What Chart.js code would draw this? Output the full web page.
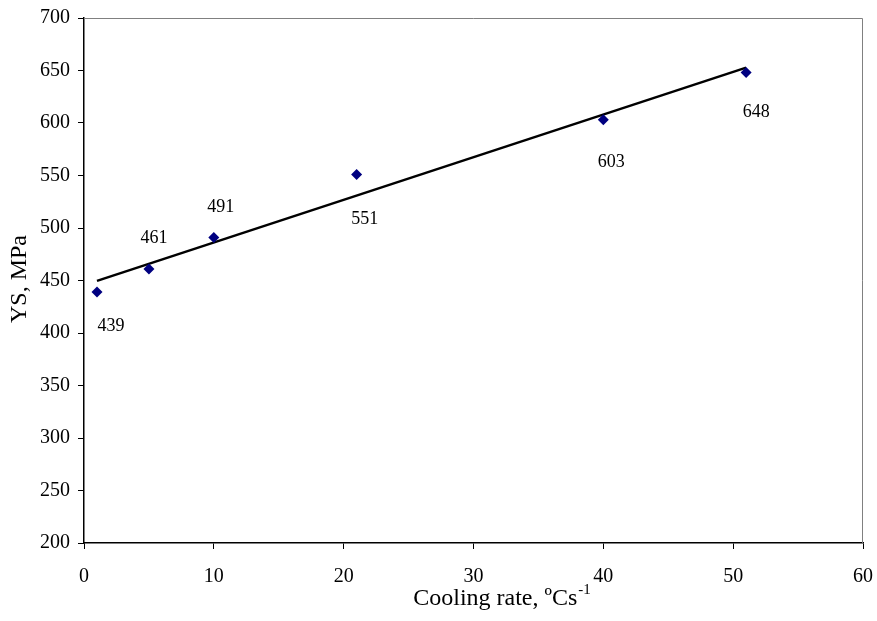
<!DOCTYPE html>
<html>
<head>
<meta charset="utf-8">
<script src="https://cdn.jsdelivr.net/npm/chart.js@4"></script>
<style>
  html, body { margin: 0; padding: 0; background: #fff; }
  #wrap { width: 877px; height: 621px; }
</style>
</head>
<body>
<div id="wrap"><canvas id="ysChart" width="877" height="621"></canvas></div>
<script>
// cooling rate (ºC/s) vs yield strength (MPa)
const coolingRate = [1, 5, 10, 21, 40, 51];
const yieldStrength = [439, 461, 491, 551, 603, 648];
// linear trend line end points
const trendX = [1, 51];
const trendY = [449.6, 652.7];
const xTicks = [0, 10, 20, 30, 40, 50, 60];
const yTicks = [200, 250, 300, 350, 400, 450, 500, 550, 600, 650, 700];

// where each value label sits relative to its point (px)
const labelOffsets = [[14, 34], [5, -31], [7, -30], [8, 45], [8, 42], [10, 40]];

const FONT = '"Liberation Serif", "Times New Roman", serif';

const framePlugin = {
    id: 'frame',
    afterDatasetsDraw(chart) {
        const { ctx, chartArea: a } = chart;
        ctx.save();
        ctx.strokeStyle = '#808080';
        ctx.lineWidth = 1;
        ctx.beginPath();
        ctx.moveTo(a.left, a.top + 0.5);
        ctx.lineTo(a.right - 0.5, a.top + 0.5);
        ctx.lineTo(a.right - 0.5, a.bottom);
        ctx.stroke();
        ctx.restore();
    },
    afterDraw(chart) {
        const { ctx, scales } = chart;
        ctx.save();
        ctx.fillStyle = '#000';
        ctx.font = '18px ' + FONT;
        ctx.textAlign = 'center';
        ctx.textBaseline = 'middle';
        coolingRate.forEach((x, i) => {
            const px = scales.x.getPixelForValue(x) + labelOffsets[i][0];
            const py = scales.y.getPixelForValue(yieldStrength[i]) + labelOffsets[i][1];
            ctx.fillText(String(yieldStrength[i]), px, py);
        });

        // x axis title with superscript
        const main = 'Cooling rate, ºCs';
        const sup = '-1';
        ctx.font = '24px ' + FONT;
        const wMain = ctx.measureText(main).width;
        ctx.font = '15px ' + FONT;
        const wSup = ctx.measureText(sup).width;
        const cx = (chart.chartArea.left + chart.chartArea.right) / 2 + 28;
        let sx = cx - (wMain + wSup) / 2;
        ctx.textAlign = 'left';
        ctx.textBaseline = 'alphabetic';
        ctx.font = '24px ' + FONT;
        ctx.fillText(main, sx, 605);
        ctx.font = '15px ' + FONT;
        ctx.fillText(sup, sx + wMain + 1, 594);

        // y axis title
        ctx.font = '24px ' + FONT;
        ctx.textAlign = 'center';
        ctx.textBaseline = 'middle';
        ctx.translate(20, 279);
        ctx.rotate(-Math.PI / 2);
        ctx.fillText('YS, MPa', 0, 0);
        ctx.restore();
    }
};

new Chart(document.getElementById('ysChart'), {
    type: 'scatter',
    data: {
        datasets: [
            {
                label: 'YS',
                data: coolingRate.map((x, i) => ({ x: x, y: yieldStrength[i] })),
                pointStyle: 'rectRot',
                pointRadius: 5.5,
                backgroundColor: '#000080',
                borderColor: '#000080',
                borderWidth: 0,
                showLine: false,
                order: 1
            },
            {
                label: 'Trend',
                data: trendX.map((x, i) => ({ x: x, y: trendY[i] })),
                showLine: true,
                borderColor: '#000',
                borderWidth: 2.5,
                pointRadius: 0,
                fill: false,
                order: 2
            }
        ]
    },
    options: {
        responsive: false,
        animation: false,
        layout: { padding: { left: 0, top: 18, right: 14, bottom: 0 } },
        plugins: { legend: { display: false }, tooltip: { enabled: false } },
        scales: {
            x: {
                type: 'linear',
                min: 0, max: 60,
                afterBuildTicks: s => { s.ticks = xTicks.map(v => ({ value: v })); },
                afterFit: s => { s.height = 78; s.paddingLeft = 0; s.paddingRight = 0; },
                grid: { display: true, drawOnChartArea: false, tickLength: 6, color: '#000', lineWidth: 1 },
                border: { color: '#000', width: 1.5 },
                ticks: { color: '#000', font: { family: FONT, size: 20 }, padding: 16 }
            },
            y: {
                type: 'linear',
                min: 200, max: 700,
                afterBuildTicks: s => { s.ticks = yTicks.map(v => ({ value: v })); },
                afterFit: s => { s.width = 84; s.paddingTop = 0; s.paddingBottom = 0; },
                grid: { display: true, drawOnChartArea: false, tickLength: 6, color: '#000', lineWidth: 1 },
                border: { color: '#000', width: 1.5 },
                ticks: { color: '#000', font: { family: FONT, size: 20 }, padding: 8 }
            }
        }
    },
    plugins: [framePlugin]
});
</script>
</body>
</html>
